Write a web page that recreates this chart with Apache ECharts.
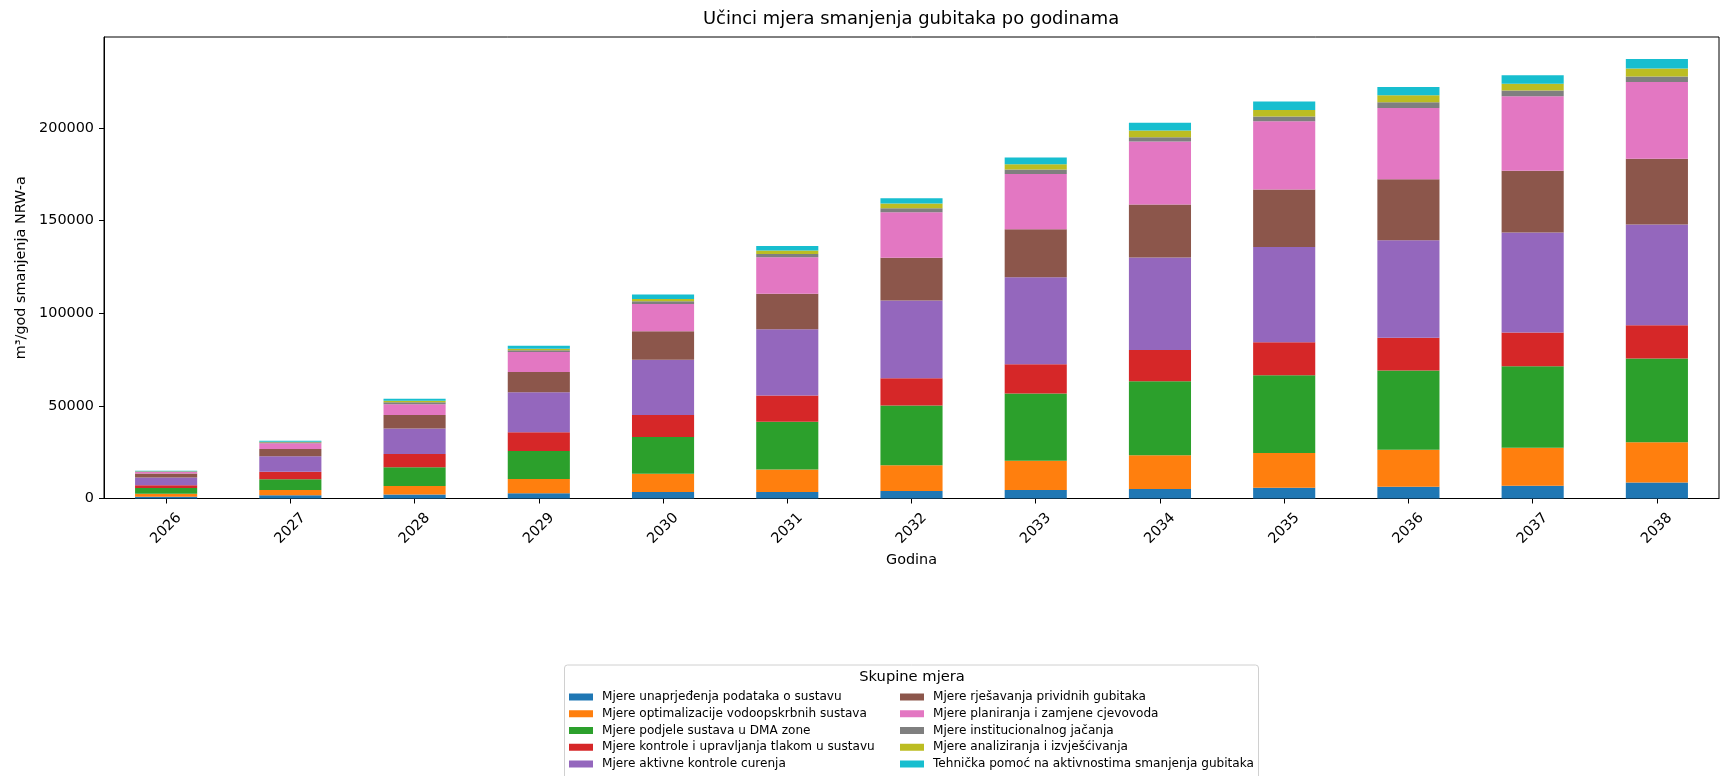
<!DOCTYPE html>
<html>
<head>
<meta charset="utf-8">
<script src="https://cdn.jsdelivr.net/npm/echarts@6/dist/echarts.min.js"></script>
<style>html,body{margin:0;padding:0;background:#fff;}#c{width:1720px;height:776px;}</style>
</head>
<body>
<div id="c"></div>
<script>
const years = ['2026','2027','2028','2029','2030','2031','2032','2033','2034','2035','2036','2037','2038'];
const seriesNames = [
  'Mjere unaprjeđenja podataka o sustavu',
  'Mjere optimalizacije vodoopskrbnih sustava',
  'Mjere podjele sustava u DMA zone',
  'Mjere kontrole i upravljanja tlakom u sustavu',
  'Mjere aktivne kontrole curenja',
  'Mjere rješavanja prividnih gubitaka',
  'Mjere planiranja i zamjene cjevovoda',
  'Mjere institucionalnog jačanja',
  'Mjere analiziranja i izvješćivanja',
  'Tehnička pomoć na aktivnostima smanjenja gubitaka'
];
const podaci      = [1000, 1700, 2200, 2800, 3500, 3500, 4000, 4600, 5100, 5800, 6400, 6900, 8700];
const optimal     = [1600, 2900, 4500, 7700, 9900, 12200, 14000, 15800, 18300, 18700, 19900, 20500, 21700];
const dma         = [3000, 5800, 10100, 15100, 19800, 25700, 32200, 36300, 39900, 42000, 42800, 44000, 45100];
const tlak        = [1600, 4100, 7200, 10100, 11900, 14200, 14700, 15800, 16900, 17800, 17600, 18200, 18000];
const curenje     = [4100, 8300, 13800, 21600, 29800, 35700, 42000, 46900, 49800, 51400, 52700, 53900, 54400];
const prividni    = [2150, 3900, 7200, 11000, 15300, 19200, 23000, 25900, 28700, 31100, 32900, 33400, 35400];
const cjevovodi   = [900, 3100, 5800, 10700, 14700, 19700, 24600, 29800, 34000, 36800, 38500, 40200, 41500];
const institucije = [250, 500, 1200, 1000, 1600, 1800, 2200, 2400, 2300, 2500, 3000, 3100, 2900];
const analize     = [150, 300, 700, 850, 1100, 1800, 2500, 2900, 3600, 3600, 3800, 3600, 4300];
const tehnicka    = [200, 500, 1100, 1550, 2500, 2500, 2900, 3600, 4200, 4500, 4500, 4600, 5200];
const yTicks = [0, 50000, 100000, 150000, 200000];

const allData = [podaci, optimal, dma, tlak, curenje, prividni, cjevovodi, institucije, analize, tehnicka];
const colors = ['#1f77b4','#ff7f0e','#2ca02c','#d62728','#9467bd','#8c564b','#e377c2','#7f7f7f','#bcbd22','#17becf'];

const totals = years.map((_, i) => allData.reduce((s, a) => s + a[i], 0));
const yMax = Math.max(...totals) * 1.05;

const FONT = 'DejaVu Sans';
const AX = 14.4;
const chart = echarts.init(document.getElementById('c'), null, {renderer: 'canvas'});

const legendCommon = {
  orient: 'vertical', padding: 0, itemWidth: 24, itemHeight: 7, icon: 'rect',
  itemGap: 2.75, top: 690,
  textStyle: {fontFamily: FONT, fontSize: 12.1, color: '#000', lineHeight: 14, padding: [0,0,0,4]},
  z: 5
};

chart.setOption({
  animation: false,
  backgroundColor: '#fff',
  color: colors,
  textStyle: {fontFamily: FONT},
  title: {
    text: 'Učinci mjera smanjenja gubitaka po godinama',
    left: 703, top: 10, padding: 0,
    textStyle: {fontFamily: FONT, fontSize: 17.9, fontWeight: 'normal', color: '#000'}
  },
  grid: {
    left: 104, right: 1, top: 37, bottom: 277.5,
    show: true, borderColor: '#000', borderWidth: 1, backgroundColor: '#fff', containLabel: false
  },
  legend: [
    Object.assign({left: 569, data: seriesNames.slice(0,5)}, legendCommon),
    Object.assign({left: 900, data: seriesNames.slice(5)}, legendCommon)
  ],
  graphic: [
    {type: 'rect', z: 1, shape: {x: 564.5, y: 665, width: 694, height: 140, r: 3},
     style: {fill: '#fff', stroke: '#d0d0d0', lineWidth: 1}},
    {type: 'text', z: 5, x: 912, y: 677, style: {text: 'Skupine mjera', font: '14.7px "DejaVu Sans"', fill: '#000', align: 'center', verticalAlign: 'middle'}}
  ],
  xAxis: {
    type: 'category', data: years, boundaryGap: true,
    name: 'Godina', nameLocation: 'middle', nameGap: 52,
    nameTextStyle: {fontFamily: FONT, fontSize: AX, color: '#000'},
    axisLine: {show: true, lineStyle: {color: '#000', width: 1}},
    axisTick: {show: true, alignWithLabel: true, length: 5, lineStyle: {color: '#000'}},
    axisLabel: {rotate: 45, align: 'center', verticalAlign: 'middle', margin: 30,
      fontFamily: FONT, fontSize: AX, color: '#000', interval: 0},
    splitLine: {show: false}
  },
  yAxis: {
    type: 'value', min: 0, max: yMax,
    name: 'm³/god smanjenja NRW-a', nameLocation: 'middle', nameGap: 76, nameRotate: 90,
    nameTextStyle: {fontFamily: FONT, fontSize: AX, color: '#000'},
    axisLine: {show: true, lineStyle: {color: '#000', width: 1}},
    axisTick: {show: true, length: 5, lineStyle: {color: '#000'}, customValues: yTicks},
    axisLabel: {fontFamily: FONT, fontSize: AX, color: '#000', margin: 10, customValues: yTicks,
      formatter: v => String(Math.round(v))},
    splitLine: {show: false}
  },
  series: seriesNames.map((n, k) => ({
    name: n, type: 'bar', stack: 'total', barWidth: '50%', data: allData[k]
  }))
});
</script>
</body>
</html>
